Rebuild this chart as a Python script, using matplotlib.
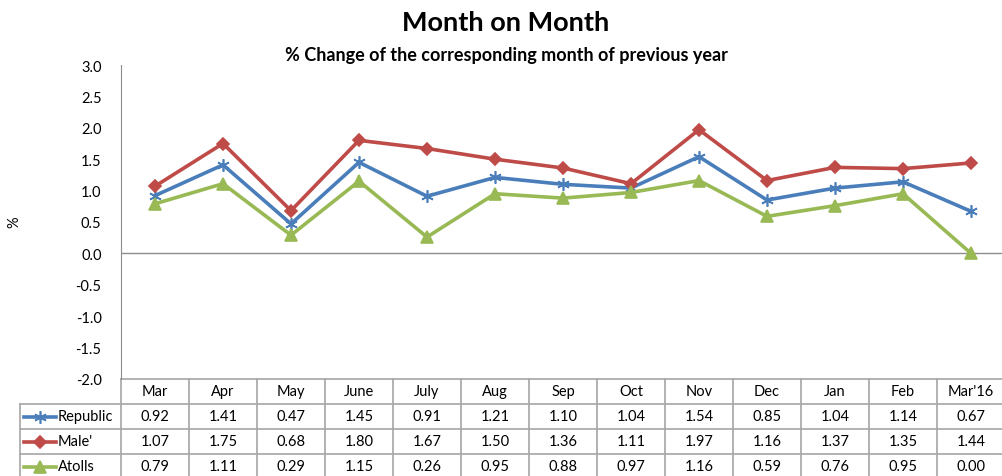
import matplotlib

matplotlib.use("Agg")
import matplotlib.pyplot as plt
import matplotlib.transforms as mtransforms

plt.rcParams["font.family"] = ["Lato", "DejaVu Sans"]

months = ["Mar", "Apr", "May", "June", "July", "Aug", "Sep", "Oct", "Nov",
          "Dec", "Jan", "Feb", "Mar'16"]
republic = [0.92, 1.41, 0.47, 1.45, 0.91, 1.21, 1.10, 1.04, 1.54, 0.85, 1.04, 1.14, 0.67]
male = [1.07, 1.75, 0.68, 1.80, 1.67, 1.50, 1.36, 1.11, 1.97, 1.16, 1.37, 1.35, 1.44]
atolls = [0.79, 1.11, 0.29, 1.15, 0.26, 0.95, 0.88, 0.97, 1.16, 0.59, 0.76, 0.95, 0.00]
series_names = ["Republic", "Male'", "Atolls"]
y_ticks = [3.0, 2.5, 2.0, 1.5, 1.0, 0.5, 0.0, -0.5, -1.0, -1.5, -2.0]

colors = ["#4A7EBB", "#BE4B48", "#98B954"]
markers = [(6, 2, 0), "D", "^"]
marker_sizes = [9, 6, 8]

W, H = 1003, 477
fig = plt.figure(figsize=(W / 100, H / 100), dpi=100)
left, right, top, bottom = 121, 1005, 66, 380
ax = fig.add_axes([left / W, 1 - bottom / H, (right - left) / W, (bottom - top) / H])

x = list(range(len(months)))
all_series = [republic, male, atolls]
for vals, c, m, ms in zip(all_series, colors, markers, marker_sizes):
    ax.plot(x, vals, color=c, lw=2.6, marker=m, ms=ms, mec=c, mfc=c, mew=1.2,
            solid_joinstyle="round", clip_on=False, zorder=3)

ax.set_xlim(-0.5, len(months) - 0.5)
ax.set_ylim(-2.0, 3.0)
ax.set_yticks(y_ticks)
ax.set_yticklabels([f"{t:.1f}" for t in y_ticks], fontsize=10.5)
ax.set_xticks([])
ax.tick_params(axis="y", length=0, pad=14)
ax.axhline(0, color="#8C8C8C", lw=1.0, zorder=1)
for s in ["top", "right", "bottom"]:
    ax.spines[s].set_visible(False)
ax.spines["left"].set_color("#8C8C8C")
fig.text(14 / W, 1 - 222 / H, "%", rotation=90, ha="center", va="center", fontsize=10.5)

# data table below the plot
row_h = 25 / (bottom - top)
grid_c = "#A6A6A6"
trans = mtransforms.blended_transform_factory(ax.transData, ax.transAxes)
label_left = -(left - 20) / (right - left)
n_rows = 4
# vertical lines between columns
for i in range(len(months) + 1):
    ax.plot([i - 0.5, i - 0.5], [0, -n_rows * row_h], transform=trans,
            color=grid_c, lw=1.2, clip_on=False)
# horizontal lines
ax.plot([-0.5, len(months) - 0.5], [0, 0], transform=trans, color=grid_c, lw=1.2, clip_on=False)
for r in range(1, n_rows + 1):
    ax.plot([label_left, 1.0], [-r * row_h, -r * row_h], transform=ax.transAxes,
            color=grid_c, lw=1.2, clip_on=False)
ax.plot([label_left, label_left], [-row_h, -n_rows * row_h], transform=ax.transAxes,
        color=grid_c, lw=1.2, clip_on=False)

for i, mth in enumerate(months):
    ax.text(i, -0.5 * row_h, mth, transform=trans, ha="center", va="center", fontsize=10.5)
for r, (vals, name, c, m, ms) in enumerate(zip(all_series, series_names, colors, markers, marker_sizes)):
    yc = -(r + 1.5) * row_h
    for i, v in enumerate(vals):
        ax.text(i, yc, f"{v:.2f}", transform=trans, ha="center", va="center", fontsize=10.5)
    x0 = label_left + 4 / (right - left)
    x1 = label_left + 36 / (right - left)
    ax.plot([x0, x1], [yc, yc], transform=ax.transAxes, color=c, lw=2.6, clip_on=False)
    ax.plot([(x0 + x1) / 2], [yc], transform=ax.transAxes, color=c, marker=m,
            ms=ms, mec=c, mfc=c, mew=1.2, clip_on=False)
    ax.text(x1 + 2 / (right - left), yc, name, transform=ax.transAxes,
            ha="left", va="center", fontsize=10.5)

fig.text(506 / W, 1 - 23 / H, "Month on Month", ha="center", va="center",
         fontsize=19.5, fontweight="bold")
fig.text(506 / W, 1 - 56 / H, "% Change of the corresponding month of previous year",
         ha="center", va="center", fontsize=13, fontweight="bold")

fig.savefig("out.png", dpi=100)
